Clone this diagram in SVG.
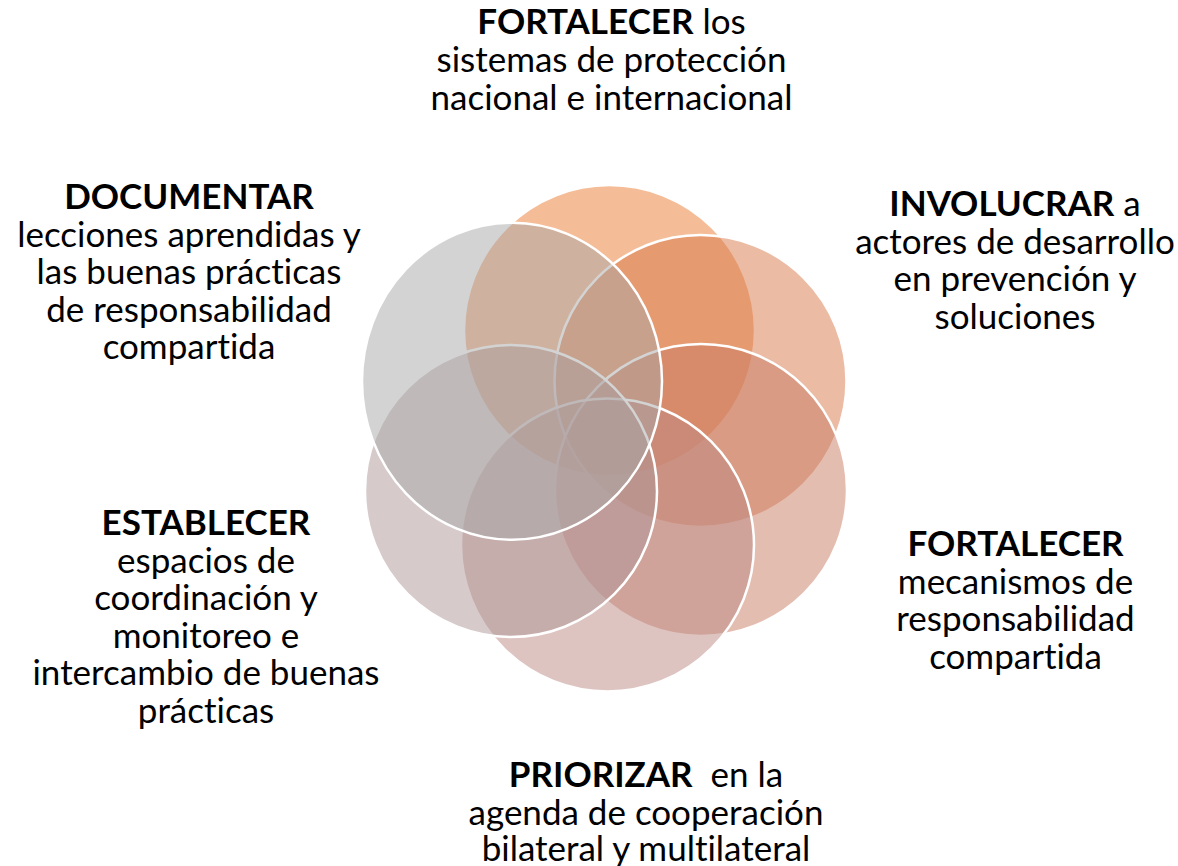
<svg xmlns="http://www.w3.org/2000/svg" width="1178" height="866" viewBox="0 0 1178 866">
<style>
.c{stroke:#FFFFFF;stroke-width:2.5;fill-opacity:0.5}
.t{font-family:Lato,"Open Sans","Liberation Sans",sans-serif;font-size:35px;fill:#000;text-anchor:middle;font-variant-ligatures:none;font-feature-settings:"liga" 0}
.b{font-weight:bold}
</style>
<rect width="1178" height="866" fill="#FFFFFF"/>
<g id="circles">
<g id="c-top"><circle class="c" cx="609.5" cy="330.5" r="145.5" fill="#EB7B2F"/></g>
<g id="c-upper-right"><circle class="c" cx="700.5" cy="381" r="146" fill="#D77749"/></g>
<g id="c-lower-right"><circle class="c" cx="701" cy="490" r="146" fill="#C97B63"/></g>
<g id="c-bottom"><circle class="c" cx="607.5" cy="545" r="146.5" fill="#BB8983"/></g>
<g id="c-lower-left"><circle class="c" cx="511" cy="491" r="146" fill="#AD9597"/></g>
<g id="c-upper-left"><ellipse class="c" cx="512" cy="381.3" rx="150" ry="158.5" fill="#A7A7A7"/></g>
</g>
<g id="connectors"></g>
<g id="label-top">
<text class="t" x="611.5" y="34"><tspan class="b">FORTALECER</tspan> los</text>
<text class="t" x="611.5" y="72">sistemas de protección</text>
<text class="t" x="611.5" y="110">nacional e internacional</text>
</g>
<g id="label-upper-right">
<text class="t" x="1015" y="216"><tspan class="b">INVOLUCRAR</tspan> a</text>
<text class="t" x="1015" y="253.5">actores de desarrollo</text>
<text class="t" x="1015" y="291">en prevención y</text>
<text class="t" x="1015" y="328.5">soluciones</text>
</g>
<g id="label-upper-left">
<text class="t b" x="189" y="209">DOCUMENTAR</text>
<text class="t" x="189" y="246.5">lecciones aprendidas y</text>
<text class="t" x="189" y="284">las buenas prácticas</text>
<text class="t" x="189" y="321.5">de responsabilidad</text>
<text class="t" x="189" y="359">compartida</text>
</g>
<g id="label-lower-right">
<text class="t b" x="1015.5" y="556">FORTALECER</text>
<text class="t" x="1015.5" y="593.5">mecanismos de</text>
<text class="t" x="1015.5" y="631">responsabilidad</text>
<text class="t" x="1015.5" y="668.5">compartida</text>
</g>
<g id="label-lower-left">
<text class="t b" x="206" y="535">ESTABLECER</text>
<text class="t" x="206" y="572.5">espacios de</text>
<text class="t" x="206" y="610">coordinación y</text>
<text class="t" x="206" y="647.5">monitoreo e</text>
<text class="t" x="206" y="685">intercambio de buenas</text>
<text class="t" x="206" y="722.5">prácticas</text>
</g>
<g id="label-bottom">
<text class="t" x="646" y="787" xml:space="preserve"><tspan class="b">PRIORIZAR</tspan>  en la</text>
<text class="t" x="646" y="824.5">agenda de cooperación</text>
<text class="t" x="646" y="861">bilateral y multilateral</text>
</g>
</svg>
